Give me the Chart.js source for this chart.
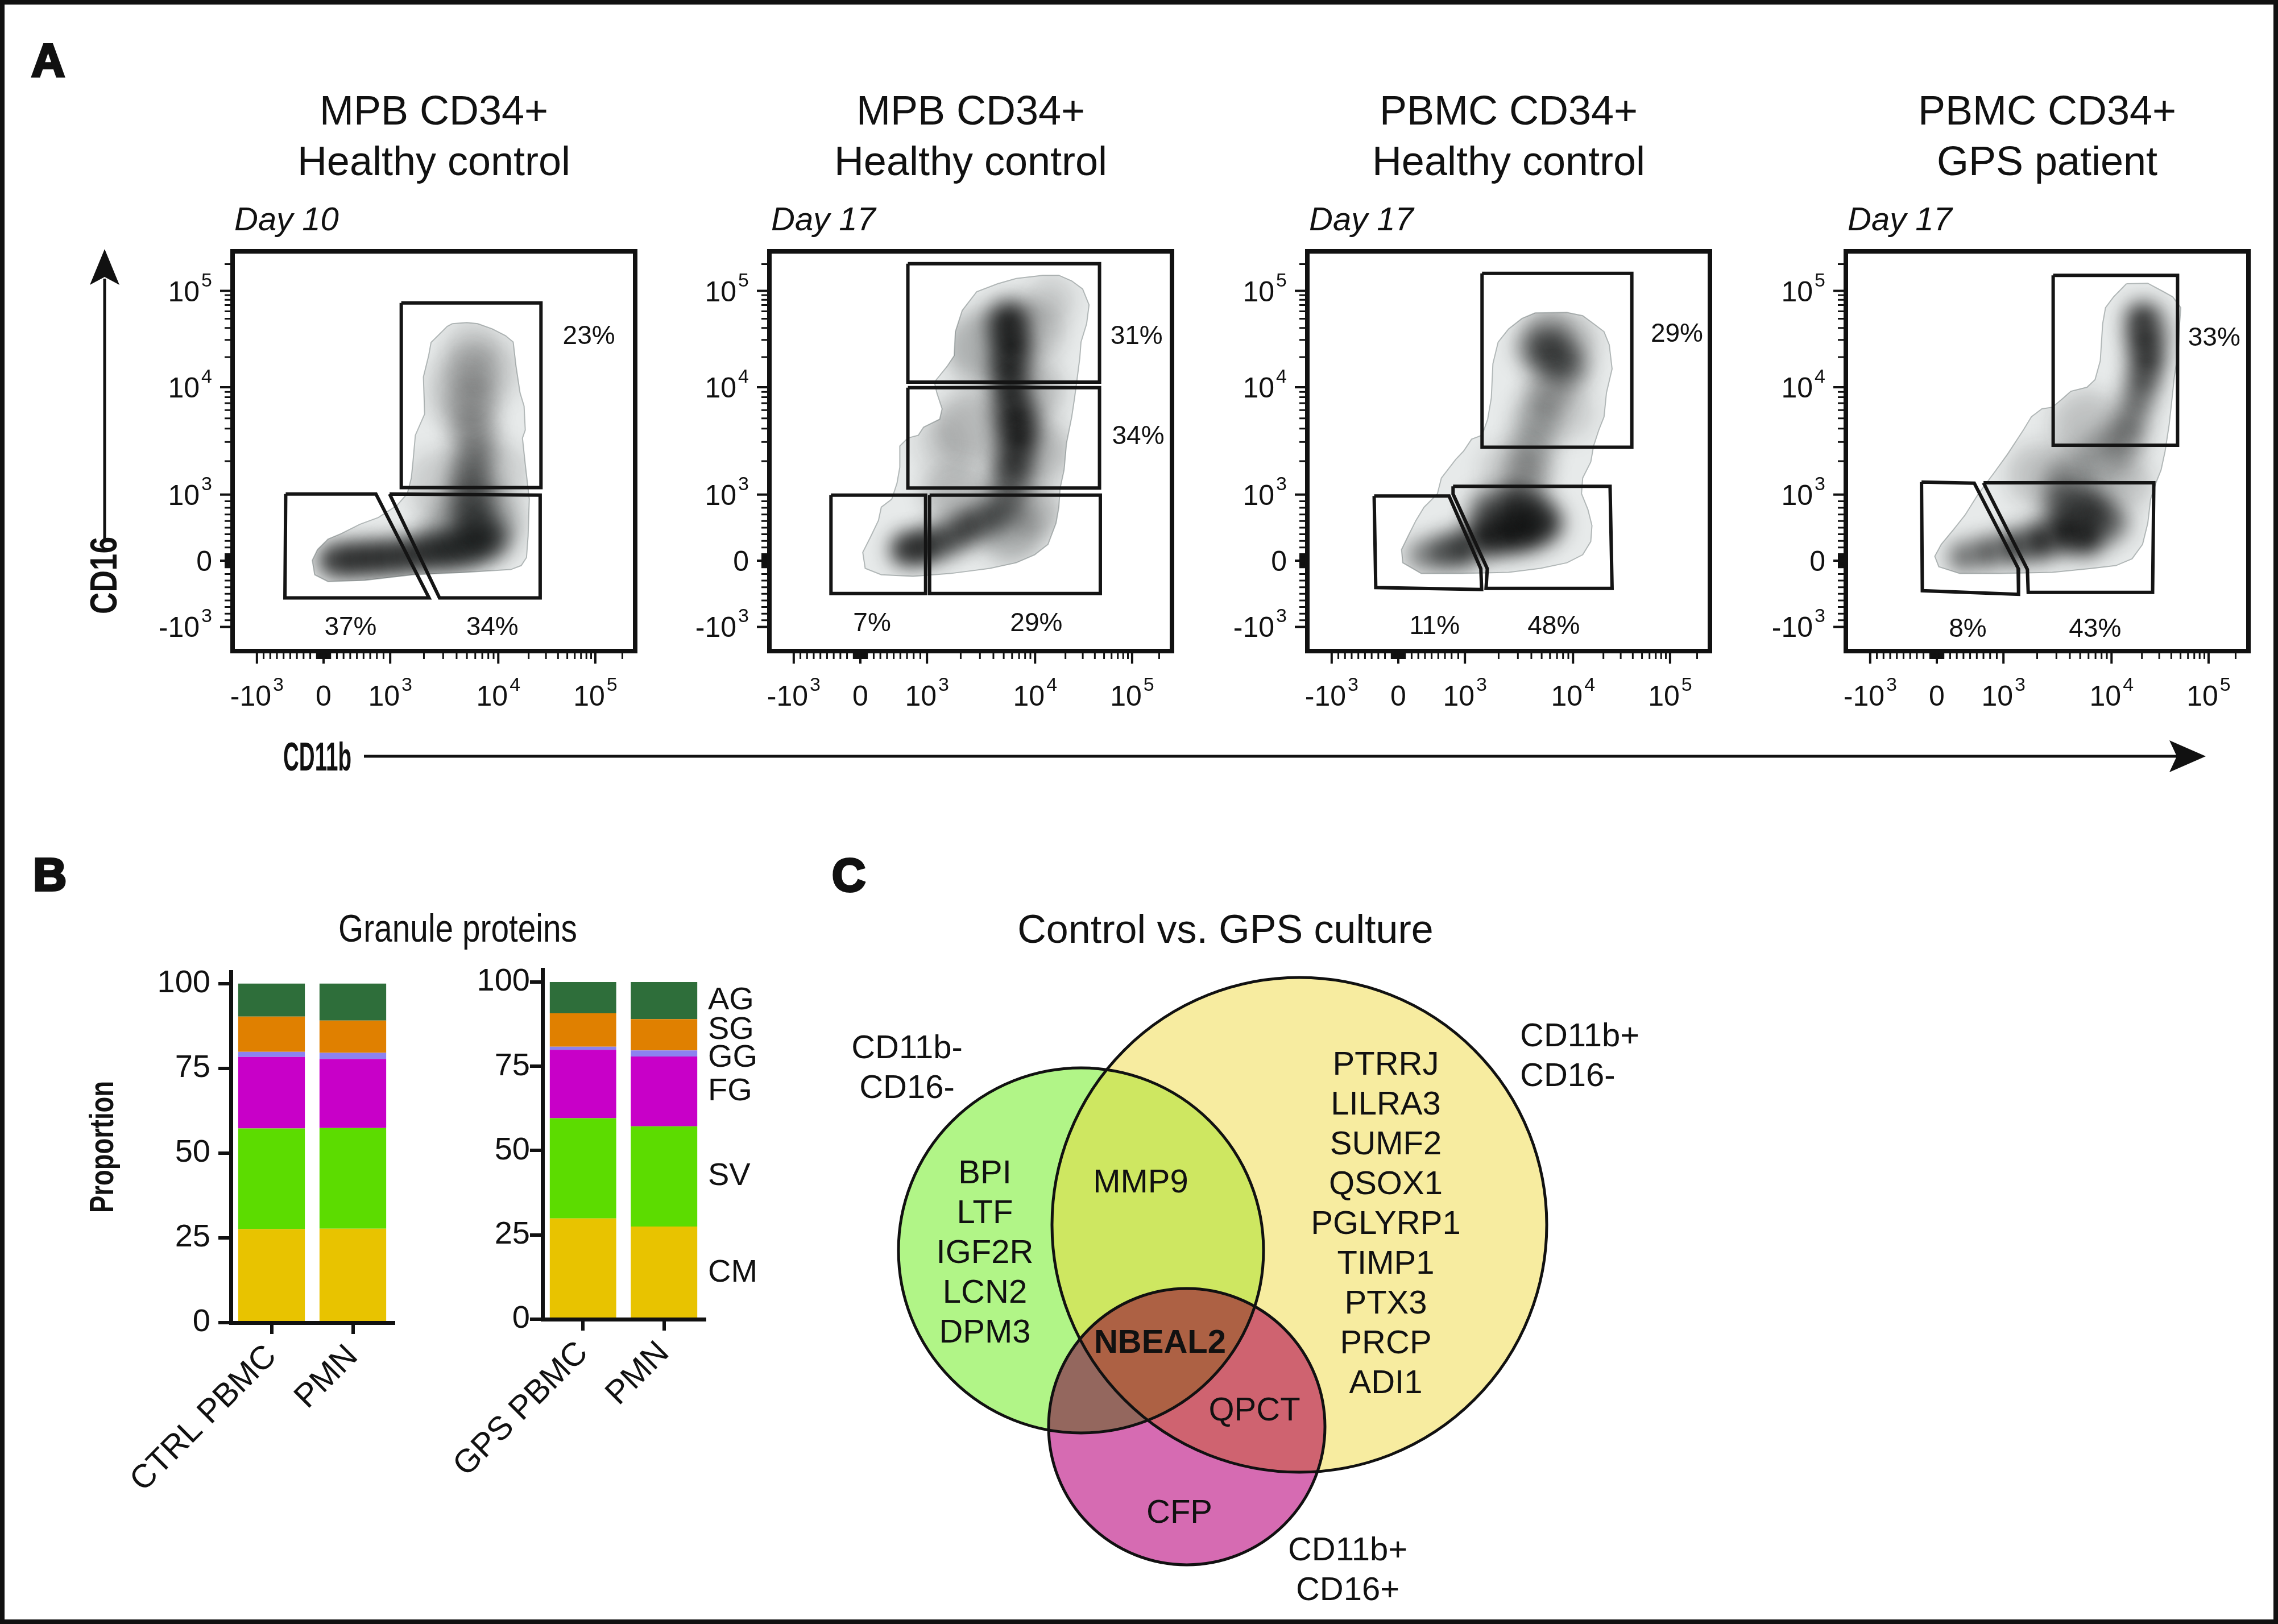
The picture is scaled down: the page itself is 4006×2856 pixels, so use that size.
<!DOCTYPE html>
<html>
<head>
<meta charset="utf-8">
<title>CD34+ culture, granule proteins and Venn</title>
<script src="https://cdn.jsdelivr.net/npm/chart.js@4.4.1/dist/chart.umd.min.js"></script>
<style>
  html, body { margin: 0; padding: 0; background: #fff; }
  #page { position: relative; width: 4006px; height: 2856px; overflow: hidden; background: #fff; }
  #page canvas, #overlay { position: absolute; }
  #overlay { left: 0; top: 0; }
  #overlay text { font-family: "Liberation Sans", Arial, sans-serif; fill: #111; }
  #overlay .cond { font-weight: bold; }
</style>
</head>
<body>
<div id="page">
<svg id="overlay" width="4006" height="2856" xmlns="http://www.w3.org/2000/svg">
  <rect x="4" y="4" width="3998" height="2848" fill="none" stroke="#111" stroke-width="8"/>
  <text x="55" y="134" font-size="82" font-weight="bold" stroke="#111" stroke-width="4">A</text>
  <text x="58" y="1566" font-size="82" font-weight="bold" stroke="#111" stroke-width="4">B</text>
  <text x="1463" y="1567" font-size="82" font-weight="bold" stroke="#111" stroke-width="4">C</text>

  <line x1="184" y1="950" x2="184" y2="490" stroke="#111" stroke-width="5"/>
  <polygon points="184,438 158,501 184,487 210,501" fill="#111"/>
  <text class="cond" font-size="66" text-anchor="middle" textLength="136" lengthAdjust="spacingAndGlyphs" transform="translate(205,1012) rotate(-90)">CD16</text>

  <line x1="640" y1="1330" x2="3835" y2="1330" stroke="#111" stroke-width="5"/>
  <polygon points="3879,1330 3815,1302 3828,1330 3815,1358" fill="#111"/>
  <text class="cond" font-size="70" x="498" y="1355" textLength="120" lengthAdjust="spacingAndGlyphs">CD11b</text>

  <text x="805" y="1656" font-size="68" text-anchor="middle" textLength="420" lengthAdjust="spacingAndGlyphs">Granule proteins</text>
  <text class="cond" font-size="60" text-anchor="middle" textLength="232" lengthAdjust="spacingAndGlyphs" transform="translate(199,2017) rotate(-90)">Proportion</text>
  <text x="2155" y="1658" font-size="70" text-anchor="middle">Control vs. GPS culture</text>
  <g id="plotTitles"></g>
</svg>
</div>

<script>
// ---------- Panel A: flow plots (biexponential display channels 0-1000) ----------
const plotTitles = [
  ["MPB CD34+", "Healthy control"],
  ["MPB CD34+", "Healthy control"],
  ["PBMC CD34+", "Healthy control"],
  ["PBMC CD34+", "GPS patient"]
];
const plotDays = ["Day 10", "Day 17", "Day 17", "Day 17"];

// outer contour of each density plot [x, y]
const mpbDay10Contour = [[546,819],[582,822],[609,819],[645,806],[678,789],[697,773],[704,713],[714,646],[724,613],[727,553],[720,533],[727,467],[737,380],[734,287],[730,234],[717,214],[691,204],[579,197],[448,191],[329,177],[237,174],[204,191],[198,227],[211,254],[237,280],[270,294],[316,317],[362,334],[408,364],[434,394],[444,433],[448,473],[454,540],[477,593],[474,686],[487,739],[493,772],[513,792],[533,812]];
const mpbDay17Contour = [[679,940],[719,940],[751,926],[778,906],[794,866],[788,819],[774,773],[771,733],[765,686],[758,633],[751,586],[738,520],[732,453],[722,407],[719,360],[712,320],[692,267],[659,241],[613,221],[548,207],[449,194],[357,187],[278,191],[238,207],[232,247],[252,287],[271,327],[278,360],[304,380],[317,420],[324,460],[324,513],[344,533],[370,540],[383,560],[423,580],[429,606],[416,646],[410,673],[442,713],[459,739],[462,799],[479,852],[515,899],[567,919],[613,932]];
const pbmcCtrlContour = [[566,846],[645,847],[684,839],[711,819],[737,799],[750,766],[757,706],[743,646],[737,586],[724,553],[711,513],[704,473],[684,433],[681,394],[697,354],[707,314],[704,274],[684,241],[645,221],[579,207],[500,197],[382,194],[283,194],[237,221],[234,254],[250,287],[270,327],[290,360],[323,393],[333,433],[369,480],[388,500],[408,530],[434,540],[448,580],[457,633],[461,719],[474,773],[500,806],[533,832]];
const pbmcGpsContour = [[697,919],[750,920],[789,899],[812,886],[832,859],[829,819],[826,753],[816,686],[809,620],[803,566],[793,500],[783,453],[770,420],[757,380],[750,320],[737,267],[711,231],[671,214],[612,207],[513,197],[382,194],[283,194],[231,211],[221,237],[237,267],[270,307],[296,340],[329,393],[369,447],[402,493],[441,553],[461,586],[487,606],[513,610],[540,633],[559,650],[599,660],[619,679],[632,726],[638,819],[645,859],[665,886]];

// density cores [x, y, spread, weight]
const mpbDay10Density = [[250,227,30,1],[290,229,32,1],[330,232,32,1],[370,234,32,1],[410,237,32,0.95],[450,242,34,0.9],[490,248,36,0.85],[530,254,38,0.8],[570,262,40,0.75],[610,270,40,0.7],[645,282,38,0.6],[600,320,48,0.55],[595,380,48,0.5],[592,433,45,0.5],[603,493,42,0.45],[598,553,48,0.35],[592,620,55,0.28],[592,699,60,0.2],[598,760,55,0.15],[560,300,75,0.3],[640,330,65,0.3],[520,420,70,0.15],[660,450,60,0.15],[560,650,70,0.12],[650,700,60,0.12]];
const mpbDay17Density = [[594,826,42,1],[600,766,40,1],[596,706,38,1],[600,646,38,0.95],[612,586,42,1],[618,533,40,1],[607,473,40,0.85],[598,420,42,0.65],[337,254,30,1],[370,258,30,1],[400,266,32,0.9],[442,280,32,0.8],[480,300,32,0.75],[505,318,30,0.75],[547,334,34,0.65],[580,360,38,0.55],[530,760,75,0.3],[500,560,75,0.25],[670,500,65,0.25],[460,400,65,0.25],[650,800,65,0.25],[650,650,65,0.25],[600,300,65,0.3],[660,350,55,0.25],[420,520,50,0.12],[700,880,50,0.15]];
const pbmcCtrlDensity = [[612,739,48,0.7],[570,760,42,0.5],[650,710,42,0.5],[600,800,48,0.35],[599,646,48,0.35],[570,580,48,0.3],[560,513,48,0.3],[546,447,48,0.35],[500,300,44,1],[448,290,44,1],[546,307,44,1],[590,320,38,0.85],[382,256,38,0.95],[330,246,32,0.8],[280,240,28,0.55],[513,365,44,0.85],[448,355,38,0.65],[560,360,38,0.65],[640,600,60,0.15],[500,450,60,0.15],[660,780,50,0.2]];
const pbmcGpsDensity = [[737,832,32,1],[743,779,34,1],[748,726,34,1],[737,673,32,0.85],[722,620,32,0.65],[705,566,34,0.55],[690,520,42,0.35],[546,300,44,1],[599,287,38,1],[480,274,38,1],[415,260,34,0.95],[349,247,30,0.85],[290,236,28,0.75],[612,354,44,0.85],[546,367,44,0.65],[658,320,38,0.6],[559,420,55,0.4],[640,487,55,0.3],[600,560,75,0.2],[480,440,65,0.2],[700,420,50,0.2],[760,800,50,0.2]];

// gates (polygons)
const mpbDay10Gates = [
  [[419,871],[766,871],[766,409],[419,409]],
  [[132,393],[356,393],[488,133],[130,133]],
  [[390,393],[764,390],[764,133],[514,133]]
];
const mpbDay17Gates = [
  [[344,969],[820,969],[820,673],[344,673]],
  [[344,659],[820,659],[820,408],[344,408]],
  [[153,390],[388,390],[388,144],[153,144]],
  [[398,390],[822,390],[822,144],[398,144]]
];
const pbmcCtrlGates = [
  [[434,945],[806,945],[806,510],[434,510]],
  [[166,388],[352,388],[431,206],[433,154],[170,159]],
  [[362,412],[752,412],[757,157],[444,157],[447,206],[362,393]]
];
const pbmcGpsGates = [
  [[515,940],[824,940],[824,515],[515,515]],
  [[188,423],[319,420],[428,207],[429,142],[190,151]],
  [[342,421],[765,421],[762,147],[453,147],[451,204]]
];

// gate percentages [x, y, text]
const mpbDay10Pct = [[885,786,"23%"],[293,58,"37%"],[645,58,"34%"]];
const mpbDay17Pct = [[912,786,"31%"],[916,536,"34%"],[255,68,"7%"],[663,68,"29%"]];
const pbmcCtrlPct = [[918,792,"29%"],[316,61,"11%"],[612,61,"48%"]];
const pbmcGpsPct = [[915,782,"33%"],[303,54,"8%"],[619,54,"43%"]];

// axis tick values (fluorescence)
const majorTicks = [-1000, 0, 1000, 10000, 100000];

// ---------- Panel B ----------
const granuleClasses = ["CM", "SV", "FG", "GG", "SG", "AG"];
const ctrlGroups = ["CTRL PBMC", "PMN"];
const gpsGroups = ["GPS PBMC", "PMN"];
const ctrlPbmc = [27.6, 29.7, 21.1, 1.5, 10.4, 9.7];
const ctrlPmn = [27.7, 29.7, 20.4, 1.8, 9.5, 10.9];
const gpsPbmc = [29.9, 29.7, 20.3, 0.9, 9.9, 9.3];
const gpsPmn = [27.5, 29.7, 20.7, 1.8, 9.3, 11.0];
const granuleColors = ["#e8c300", "#5cdc00", "#c800c8", "#8c82f0", "#e08000", "#2e6e3a"];

// ---------- Panel C ----------
const vennSetNames = [["CD11b-", "CD16-"], ["CD11b+", "CD16-"], ["CD11b+", "CD16+"]];
const vennCenterX = [451, 835, 637];
const vennCenterY = [639, 594, 949];
const vennRadius = [321, 435, 243];
const greenOnlyGenes = ["BPI", "LTF", "IGF2R", "LCN2", "DPM3"];
const greenYellowGenes = ["MMP9"];
const yellowOnlyGenes = ["PTRRJ", "LILRA3", "SUMF2", "QSOX1", "PGLYRP1", "TIMP1", "PTX3", "PRCP", "ADI1"];
const allThreeGenes = ["NBEAL2"];
const yellowPinkGenes = ["QPCT"];
const pinkOnlyGenes = ["CFP"];

// ================= drawing =================
Chart.defaults.font.family = '"Liberation Sans", Arial, sans-serif';
Chart.defaults.color = '#111';
const FONT = '"Liberation Sans", Arial, sans-serif';

const page = document.getElementById('page');
function makeCanvas(left, top, width, height) {
  const c = document.createElement('canvas');
  c.width = width; c.height = height;
  c.style.left = left + 'px'; c.style.top = top + 'px';
  c.style.width = width + 'px'; c.style.height = height + 'px';
  page.appendChild(c);
  return c;
}

// biexponential-style display transform used by the FACS axes
function toChannel(v) {
  if (v <= 1000) return 226 + v * 0.1655;
  const t = Math.log10(v / 1000);
  return 391.5 + 282.25 * t - 13.75 * t * t;
}
const minorTicks = [];
for (let k = 1; k <= 9; k++) minorTicks.push(-k * 100, k * 100, -k * 10, k * 10);
for (let k = 2; k <= 9; k++) minorTicks.push(k * 1000, k * 10000);
minorTicks.push(200000);

function drawPowerLabel(ctx, v, x, baseY, align) {
  let base = '0', sup = '';
  if (v !== 0) {
    base = (v < 0 ? '-' : '') + '10';
    sup = String(Math.round(Math.log10(Math.abs(v))));
  }
  ctx.font = '50px ' + FONT;
  const w1 = ctx.measureText(base).width;
  ctx.font = '34px ' + FONT;
  const w2 = sup ? ctx.measureText(sup).width + 3 : 0;
  const total = w1 + w2;
  const x0 = align === 'center' ? x - total / 2 : x - total;
  ctx.textAlign = 'left';
  ctx.textBaseline = 'alphabetic';
  ctx.font = '50px ' + FONT;
  ctx.fillText(base, x0, baseY);
  if (sup) {
    ctx.font = '34px ' + FONT;
    ctx.fillText(sup, x0 + w1 + 3, baseY - 26);
  }
}

function makeFlowPlugin(pct) {
  return {
    id: 'flowAxes',
    beforeDatasetDraw(chart, args) {
      const ds = chart.data.datasets[args.index];
      if (ds.role !== 'density') return;
      const ctx = chart.ctx;
      const outline = chart.getDatasetMeta(0).data;
      ctx.save();
      ctx.beginPath();
      outline.forEach((p, i) => i ? ctx.lineTo(p.x, p.y) : ctx.moveTo(p.x, p.y));
      ctx.closePath();
      ctx.clip();
      ctx.filter = 'blur(' + ds.blur + 'px)';
    },
    afterDatasetDraw(chart, args) {
      if (chart.data.datasets[args.index].role === 'density') chart.ctx.restore();
    },
    afterDraw(chart) {
      const ctx = chart.ctx, a = chart.chartArea;
      const sx = chart.scales.x, sy = chart.scales.y;
      ctx.save();
      ctx.strokeStyle = '#111';
      ctx.fillStyle = '#111';
      ctx.lineWidth = 8;
      ctx.strokeRect(a.left, a.top, a.width, a.height);
      const tick = (v, len, w) => {
        const c = toChannel(v);
        const px = sx.getPixelForValue(c), py = sy.getPixelForValue(c);
        ctx.lineWidth = w;
        ctx.beginPath();
        ctx.moveTo(px, a.bottom + 4); ctx.lineTo(px, a.bottom + 4 + len);
        ctx.moveTo(a.left - 4, py); ctx.lineTo(a.left - 4 - len, py);
        ctx.stroke();
      };
      minorTicks.forEach(v => tick(v, 10, 3));
      majorTicks.forEach(v => tick(v, 18, 4));
      majorTicks.forEach(v => {
        const c = toChannel(v);
        drawPowerLabel(ctx, v, sx.getPixelForValue(c), a.bottom + 96, 'center');
        drawPowerLabel(ctx, v, a.left - 36, sy.getPixelForValue(c) + 18, 'right');
      });
      ctx.font = '46px ' + FONT;
      ctx.textAlign = 'center';
      ctx.textBaseline = 'middle';
      pct.forEach(([x, y, t]) => ctx.fillText(t, sx.getPixelForValue(x), sy.getPixelForValue(y)));
      ctx.restore();
    }
  };
}

const closeRing = arr => arr.concat([arr[0]]).map(([x, y]) => ({x, y}));

const flowPlots = [
  {contour: mpbDay10Contour, density: mpbDay10Density, gates: mpbDay10Gates, pct: mpbDay10Pct},
  {contour: mpbDay17Contour, density: mpbDay17Density, gates: mpbDay17Gates, pct: mpbDay17Pct},
  {contour: pbmcCtrlContour, density: pbmcCtrlDensity, gates: pbmcCtrlGates, pct: pbmcCtrlPct},
  {contour: pbmcGpsContour, density: pbmcGpsDensity, gates: pbmcGpsGates, pct: pbmcGpsPct}
];
const plotLeft = [409, 1353, 2299, 3246];
const BOX_TOP = 442, BOX_W = 708, BOX_H = 703;
const PAD = {left: 200, top: 62, right: 120, bottom: 130};

// titles and day labels
const svgNS = 'http://www.w3.org/2000/svg';
const titleGroup = document.getElementById('plotTitles');
function svgText(x, y, str, attrs) {
  const t = document.createElementNS(svgNS, 'text');
  t.setAttribute('x', x); t.setAttribute('y', y);
  Object.keys(attrs).forEach(k => t.setAttribute(k, attrs[k]));
  t.textContent = str;
  titleGroup.appendChild(t);
}

// radius of a density core in pixels (spread is in channel units)
const coreRadius = c => {
  if (!c.raw) return 0;
  const w = c.chart.chartArea ? c.chart.chartArea.width : BOX_W;
  return c.raw.s * w / 1000 * 1.2;
};

flowPlots.forEach((p, i) => {
  const L = plotLeft[i];
  const cx = L + BOX_W / 2;
  svgText(cx, 219, plotTitles[i][0], {'font-size': 72, 'text-anchor': 'middle'});
  svgText(cx, 308, plotTitles[i][1], {'font-size': 72, 'text-anchor': 'middle'});
  svgText(L + 3, 405, plotDays[i], {'font-size': 58, 'font-style': 'italic'});

  const canvas = makeCanvas(L - PAD.left, BOX_TOP - PAD.top, BOX_W + PAD.left + PAD.right, BOX_H + PAD.top + PAD.bottom);
  const datasets = [
    {
      data: closeRing(p.contour), showLine: true, fill: 'shape',
      backgroundColor: 'rgb(231,234,234)', borderColor: 'rgb(178,184,184)', borderWidth: 2,
      pointRadius: 0, order: 3
    },
    {
      role: 'density', blur: 18,
      data: p.density.map(([x, y, s, w]) => ({x, y, s, w})),
      showLine: false, pointBorderWidth: 0,
      pointRadius: coreRadius,
      pointBackgroundColor: c => c.raw ? 'rgba(12,14,14,' + Math.min(1, c.raw.w * 0.88) + ')' : 'rgba(0,0,0,0)',
      order: 2
    }
  ].concat(p.gates.map(g => ({
    data: closeRing(g), showLine: true, fill: false,
    borderColor: '#141414', borderWidth: 6, borderJoinStyle: 'miter',
    pointRadius: 0, order: 1
  })));

  new Chart(canvas, {
    type: 'scatter',
    data: {datasets},
    options: {
      responsive: false, animation: false, events: [], devicePixelRatio: 1,
      layout: {padding: PAD, autoPadding: false},
      scales: {
        x: {type: 'linear', min: 0, max: 1000, display: false},
        y: {type: 'linear', min: 0, max: 1000, display: false}
      },
      plugins: {legend: {display: false}, tooltip: {enabled: false}}
    },
    plugins: [makeFlowPlugin(p.pct)]
  });
});

// ---------- bars ----------
const granuleLegend = {
  id: 'granuleLegend',
  afterDraw(chart) {
    if (!chart.options.plugins.granuleLegend.show) return;
    const ctx = chart.ctx, sy = chart.scales.y, a = chart.chartArea;
    // label beside each segment of the last bar, nudged apart when crowded
    let acc = 0;
    const pos = gpsPmn.map(v => { const m = acc + v / 2; acc += v; return m; });
    const gap = 8.2;
    for (let it = 0; it < 30; it++) {
      for (let k = 0; k < pos.length - 1; k++) {
        const d = pos[k + 1] - pos[k];
        if (d < gap) { const s = (gap - d) / 2; pos[k + 1] += s; pos[k] -= s; }
      }
    }
    ctx.save();
    ctx.font = '56px ' + FONT;
    ctx.fillStyle = '#111';
    ctx.textAlign = 'left';
    ctx.textBaseline = 'middle';
    granuleClasses.forEach((name, k) => ctx.fillText(name, a.right + 6, sy.getPixelForValue(pos[k])));
    ctx.restore();
  }
};

function makeBarChart(left, width, groups, series, yWidth, topPad, rightPad, xHeight, tickPad, yMax, showLegend) {
  const canvas = makeCanvas(left, 1650, width, 1050);
  new Chart(canvas, {
    type: 'bar',
    data: {
      labels: groups,
      datasets: granuleClasses.map((name, k) => ({
        label: name,
        data: series.map(s => s[k]),
        backgroundColor: granuleColors[k],
        borderWidth: 0,
        barPercentage: 0.82,
        categoryPercentage: 1
      }))
    },
    options: {
      responsive: false, animation: false, events: [], devicePixelRatio: 1,
      layout: {padding: {left: 0, top: topPad, right: rightPad, bottom: 0}},
      scales: {
        x: {
          stacked: true,
          afterFit: s => { s.height = xHeight; },
          border: {display: true, width: 7, color: '#111'},
          grid: {offset: false, drawOnChartArea: false, drawTicks: true, tickLength: 20, lineWidth: 6, color: '#111'},
          ticks: {minRotation: 45, maxRotation: 45, autoSkip: false, font: {size: 58}, color: '#111', padding: 6}
        },
        y: {
          stacked: true, min: 0, max: yMax,
          afterFit: s => { s.width = yWidth; },
          border: {display: true, width: 7, color: '#111'},
          grid: {drawOnChartArea: false, drawTicks: true, tickLength: 22, lineWidth: 6, color: '#111'},
          ticks: {stepSize: 25, includeBounds: false, font: {size: 56}, color: '#111', padding: tickPad}
        }
      },
      plugins: {legend: {display: false}, tooltip: {enabled: false}, granuleLegend: {show: showLegend}}
    },
    plugins: [granuleLegend]
  });
}
makeBarChart(150, 620, ctrlGroups, [ctrlPbmc, ctrlPmn], 256, 59, 78, 374, 14, 103.5, false);
makeBarChart(700, 700, gpsGroups, [gpsPbmc, gpsPmn], 254, 55, 161, 380, 0, 103.7, true);

// ---------- Venn ----------
const vennLabels = {
  id: 'vennLabels',
  beforeDatasetDraw(chart, args) {
    const ds = chart.data.datasets[args.index];
    if (ds.blend) { chart.ctx.save(); chart.ctx.globalCompositeOperation = ds.blend; }
  },
  afterDatasetDraw(chart, args) {
    if (chart.data.datasets[args.index].blend) chart.ctx.restore();
  },
  afterDatasetsDraw(chart) {
    const ctx = chart.ctx, sx = chart.scales.x, sy = chart.scales.y;
    ctx.save();
    ctx.fillStyle = '#111';
    ctx.textBaseline = 'alphabetic';
    const block = (lines, x, y0, align, bold) => {
      ctx.font = (bold ? 'bold ' : '') + '58px ' + FONT;
      ctx.textAlign = align;
      lines.forEach((s, k) => ctx.fillText(s, sx.getPixelForValue(x), sy.getPixelForValue(y0 + k * 70)));
    };
    block(greenOnlyGenes, 282, 521, 'center');
    block(greenYellowGenes, 556, 537, 'center');
    block(yellowOnlyGenes, 987, 330, 'center');
    block(allThreeGenes, 590, 819, 'center', true);
    block(yellowPinkGenes, 756, 938, 'center');
    block(pinkOnlyGenes, 624, 1118, 'center');
    block(vennSetNames[0], 145, 301, 'center');
    block(vennSetNames[1], 1223, 280, 'left');
    block(vennSetNames[2], 920, 1184, 'center');
    ctx.restore();
  }
};
// circle radius given in diagram units, converted through the x scale
const circleRadius = c => {
  if (!c.raw) return 0;
  const s = c.chart.scales.x;
  if (!s || !c.chart.chartArea) return c.raw.r;
  return s.getPixelForValue(c.raw.r) - s.getPixelForValue(0);
};
const vennPoint = k => ({x: vennCenterX[k], y: vennCenterY[k], r: vennRadius[k]});
new Chart(makeCanvas(1450, 1560, 1500, 1290), {
  type: 'scatter',
  data: {
    datasets: [
      {data: [vennPoint(0)], pointRadius: circleRadius, pointBackgroundColor: 'rgb(177,245,135)', pointBorderWidth: 0, order: 4},
      {data: [vennPoint(1)], pointRadius: circleRadius, pointBackgroundColor: 'rgba(238,215,57,0.48)', pointBorderWidth: 0, order: 3},
      {data: [vennPoint(2)], pointRadius: circleRadius, pointBackgroundColor: 'rgb(214,107,178)', pointBorderWidth: 0, blend: 'multiply', order: 2},
      {data: [0, 1, 2].map(vennPoint), pointRadius: circleRadius, pointBackgroundColor: 'rgba(0,0,0,0)', pointBorderColor: '#111', pointBorderWidth: 5, order: 1}
    ]
  },
  options: {
    responsive: false, animation: false, events: [], devicePixelRatio: 1,
    layout: {padding: 0, autoPadding: false},
    scales: {
      x: {type: 'linear', min: 0, max: 1500, display: false},
      y: {type: 'linear', min: 0, max: 1290, reverse: true, display: false}
    },
    plugins: {legend: {display: false}, tooltip: {enabled: false}}
  },
  plugins: [vennLabels]
});
</script>
</body>
</html>
